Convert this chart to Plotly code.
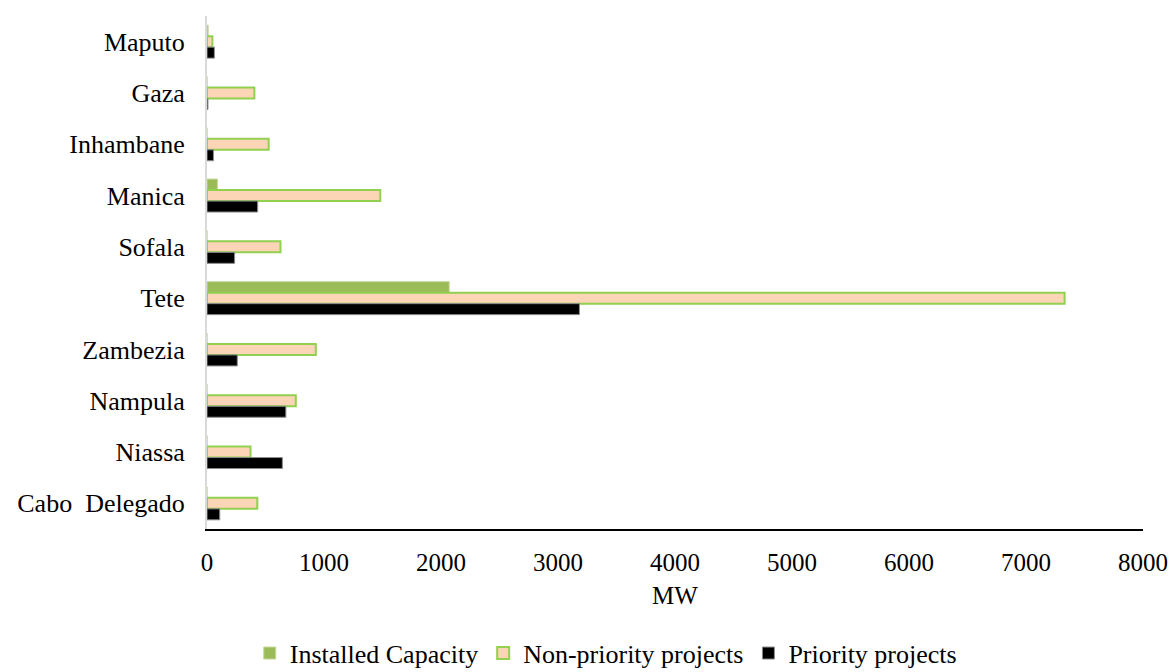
import plotly.graph_objects as go

provinces = ["Maputo", "Gaza", "Inhambane", "Manica", "Sofala", "Tete",
             "Zambezia", "Nampula", "Niassa", "Cabo  Delegado"]
installed = [10, 0, 0, 89, 0, 2070, 0, 0, 0, 0]
non_priority = [46, 405, 527, 1481, 628, 7330, 930, 759, 372, 430]
priority = [63, 8, 55, 433, 236, 3183, 259, 674, 644, 109]

FONT = "Liberation Serif, Times New Roman, serif"

fig = go.Figure()
fig.add_trace(go.Bar(y=provinces, x=installed, orientation="h", name="Installed Capacity",
                     marker=dict(color="#9BBB59", line=dict(color="#c4d79b", width=1))))
fig.add_trace(go.Bar(y=provinces, x=non_priority, orientation="h", name="Non-priority projects",
                     marker=dict(color="#FBD5B5", line=dict(color="#92D050", width=2))))
fig.add_trace(go.Bar(y=provinces, x=priority, orientation="h", name="Priority projects",
                     marker=dict(color="#000000", line=dict(color="#8c8c8c", width=1))))

fig.update_layout(
    width=1173, height=672,
    barmode="group", bargap=0.357, bargroupgap=0,
    plot_bgcolor="white", paper_bgcolor="white",
    margin=dict(l=207, r=30, t=16, b=143, autoexpand=False),
    font=dict(family=FONT, size=26, color="#000000"),
    showlegend=True,
    legend=dict(orientation="h", x=0.426, xanchor="center", y=-0.242, yanchor="middle",
                font=dict(family=FONT, size=26), itemwidth=30, tracegroupgap=0),
)
fig.update_xaxes(range=[0, 8000], dtick=1000, showgrid=False, zeroline=False,
                 showline=True, linecolor="#000000", linewidth=2, automargin=False,
                 ticks="outside", ticklen=10, tickcolor="rgba(0,0,0,0)",
                 tickfont=dict(family=FONT, size=25),
                 title=dict(text="MW", font=dict(family=FONT, size=25), standoff=11))
fig.update_yaxes(autorange="reversed", showgrid=False, zeroline=False,
                 showline=True, linecolor="#d9d9d9", linewidth=2, automargin=False,
                 ticks="outside", ticklen=15, tickcolor="rgba(0,0,0,0)",
                 tickfont=dict(family=FONT, size=26))

fig.write_html("out.html", config={"displayModeBar": False},
               post_script="document.body.style.margin='0';")
